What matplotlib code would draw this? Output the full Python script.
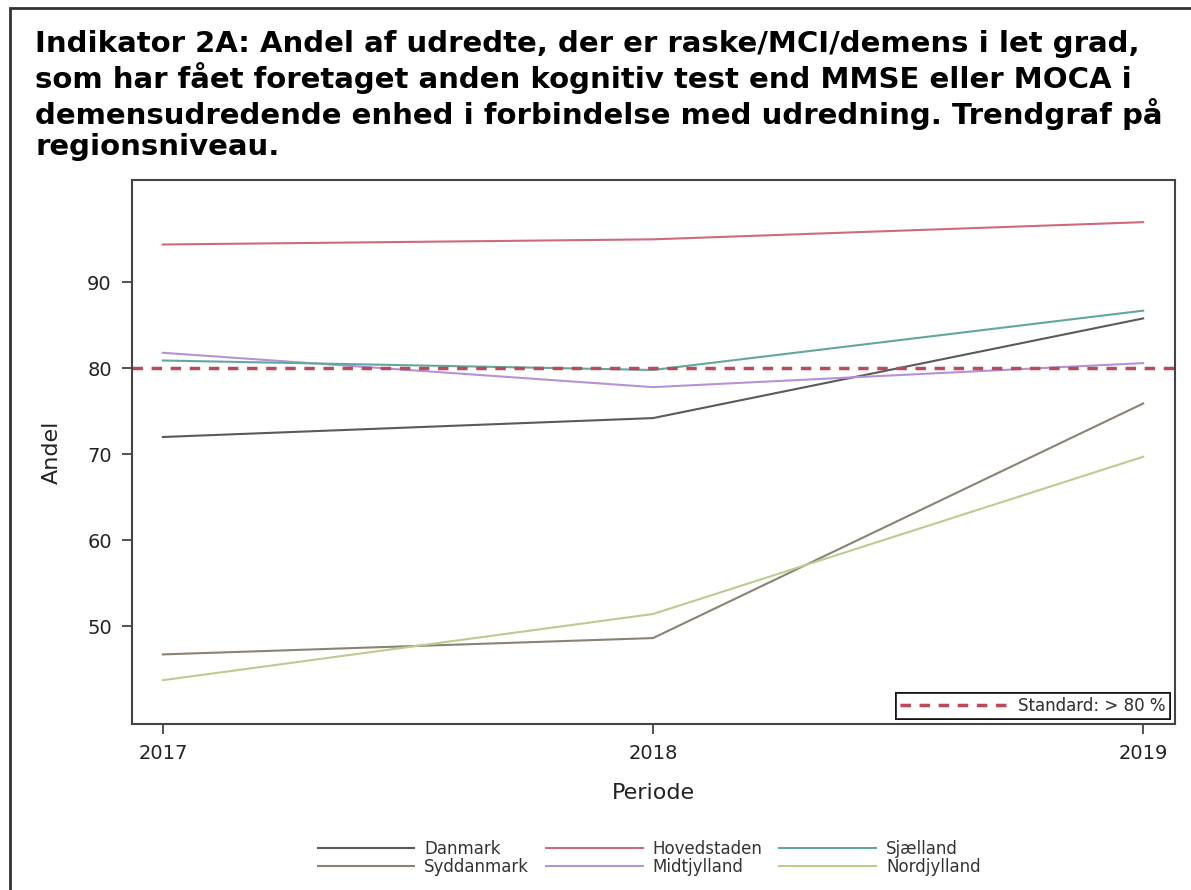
import matplotlib.pyplot as plt
from matplotlib.patches import Rectangle

# data
years = [2017, 2018, 2019]
danmark = [72.0, 74.2, 85.8]
hovedstaden = [94.4, 95.0, 97.0]
sjaelland = [80.9, 79.8, 86.7]
syddanmark = [46.7, 48.6, 75.9]
midtjylland = [81.8, 77.8, 80.6]
nordjylland = [43.7, 51.4, 69.7]
standard = 80
yticks = [50, 60, 70, 80, 90]

title = ("Indikator 2A: Andel af udredte, der er raske/MCI/demens i let grad,\n"
         "som har fået foretaget anden kognitiv test end MMSE eller MOCA i\n"
         "demensudredende enhed i forbindelse med udredning. Trendgraf på\n"
         "regionsniveau.")

fig = plt.figure(figsize=(11.91, 8.9), dpi=100)
ax = fig.add_axes([0.1108, 0.1865, 0.8758, 0.6112])

# border around the figure (only left and top visible in the reference)
fig.patches.append(Rectangle((10 / 1191, -0.1), 1.2, 1 - 8 / 890 + 0.1,
                             transform=fig.transFigure, fill=False,
                             edgecolor='#333333', linewidth=2))

series = [
    ('Danmark', danmark, '#5a5a5a'),
    ('Syddanmark', syddanmark, '#8a8272'),
    ('Hovedstaden', hovedstaden, '#cf6a7c'),
    ('Midtjylland', midtjylland, '#b592d6'),
    ('Sjælland', sjaelland, '#62a79c'),
    ('Nordjylland', nordjylland, '#bccb8e'),
]
lines = []
for name, vals, col in series:
    ln, = ax.plot(years, vals, color=col, linewidth=1.5, label=name)
    lines.append(ln)

std_line = ax.axhline(standard, color='#b84a5c', linestyle=(0, (3, 2.5)),
                      linewidth=2.5, label='Standard: > 80 %')

ax.set_xlim(2016.937, 2019.065)
ax.set_ylim(38.6, 101.9)
ax.set_xticks(years)
ax.set_xticklabels([str(y) for y in years])
ax.set_yticks(yticks)
ax.tick_params(axis='both', labelsize=14, length=7.5, width=1.3,
               color='#444444', labelcolor='#222222', pad=7)
for s in ax.spines.values():
    s.set_color('#444444')
    s.set_linewidth(1.5)

ax.set_xlabel('Periode', fontsize=16, color='#222222', labelpad=14)
ax.set_ylabel('Andel', fontsize=16, color='#222222', labelpad=18)

leg_std = ax.legend(handles=[std_line], loc='lower right', fontsize=12,
                    handlelength=6.5, frameon=True, fancybox=False,
                    edgecolor='black', borderaxespad=0.3, borderpad=0.25,
                    handletextpad=0.6, labelcolor='#333333')
leg_std.get_frame().set_linewidth(1.3)
ax.add_artist(leg_std)

fig.legend(handles=lines, loc='center', bbox_to_anchor=(0.545, 0.036),
           ncol=3, fontsize=12, handlelength=5.8, frameon=False,
           columnspacing=1.0, labelspacing=0.0, handletextpad=0.6,
           labelcolor='#333333')

fig.text(35 / 1191, 1 - 30 / 890, title, fontsize=21, fontweight='bold',
         va='top', ha='left', linespacing=1.15)

fig.savefig('out.png', dpi=100)
